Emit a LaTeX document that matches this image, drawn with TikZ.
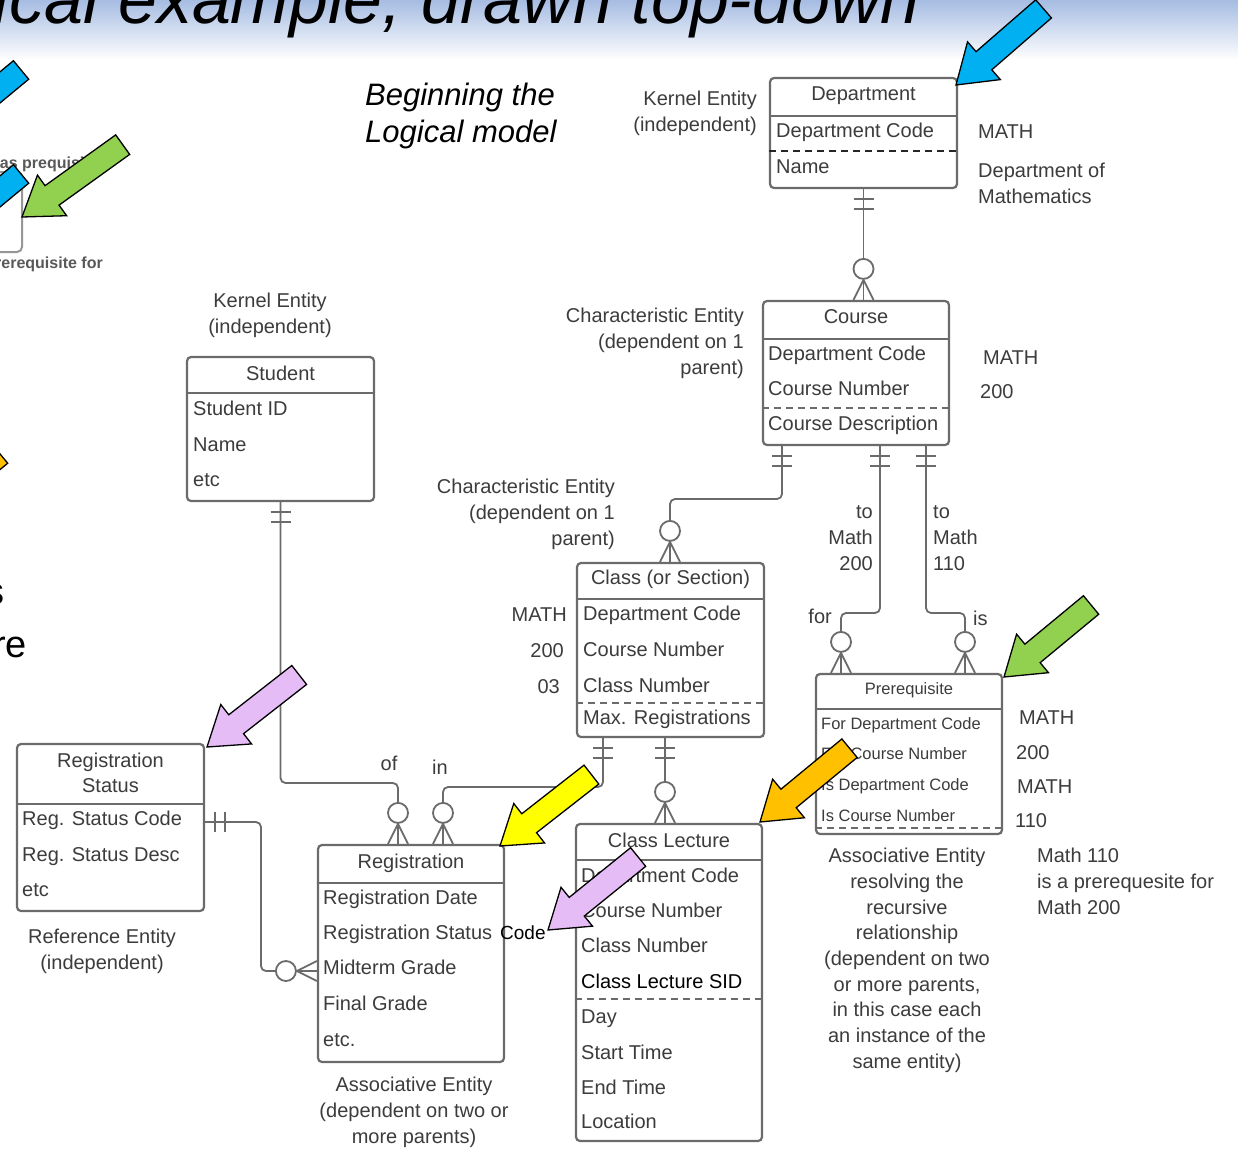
\documentclass[tikz,border=0pt]{standalone}
\usepackage{fontspec}
\setmainfont{Liberation Sans}
\usetikzlibrary{decorations.markings}

\definecolor{boxgray}{HTML}{6B6B6B}
\definecolor{txtgray}{HTML}{3C3C3C}
\definecolor{bandblue}{HTML}{A6BCE2}
\definecolor{arrowblue}{HTML}{00B0F0}
\definecolor{arrowgreen}{HTML}{92D050}
\definecolor{arrowlilac}{HTML}{E6BCF7}
\definecolor{arrowyellow}{HTML}{FFFF00}
\definecolor{arroworange}{HTML}{FFC000}

\tikzset{
  entity/.style={draw=boxgray, line width=2.2pt, rounded corners=4pt, inner sep=0pt},
  ehead/.style={font=\fontsize{20}{25}\selectfont, text=txtgray, inner sep=0pt, align=center},
  attr/.style={anchor=west, font=\fontsize{20}{25}\selectfont, text=txtgray, inner sep=0pt,
               text height=15pt, text depth=4pt},
  smallattr/.style={attr, font=\fontsize{16.5}{20}\selectfont, text height=12pt, text depth=3.5pt},
  note/.style={font=\fontsize{20}{26}\selectfont, text=txtgray, inner sep=0pt},
  sepline/.style={draw=boxgray, line width=2.2pt},
  keyline/.style={draw=boxgray, line width=1.5pt, dash pattern=on 7pt off 5pt},
  rel/.style={draw=boxgray, line width=1.8pt, rounded corners=5pt},
  onestart/.style={postaction={decorate, decoration={markings,
      mark=at position 10pt with {\draw[boxgray, line width=1.8pt] (0pt,-10pt) -- (0pt,10pt);},
      mark=at position 20pt with {\draw[boxgray, line width=1.8pt] (0pt,-10pt) -- (0pt,10pt);}}}},
  manyend/.style={postaction={decorate, decoration={markings,
      mark=at position 1 with {\draw[boxgray, line width=1.8pt] (-20pt,0pt) -- (0pt,10pt) (-20pt,0pt) -- (0pt,-10pt);
                               \draw[boxgray, line width=1.8pt, fill=white] (-31pt,0pt) circle (10pt);}}}},
  callout/.style={draw=black, line width=1.3pt, line join=miter},
  fragment/.style={font=\bfseries\fontsize{16}{19}\selectfont, text=black!65, inner sep=0pt},
}

% block arrow: colour, tip, angle, length
\newcommand{\calloutarrow}[4]{%
  \begin{scope}[shift={#2}, rotate=#3]
    \filldraw[callout, fill=#1] (0,0) -- (37,25) -- (37,12) -- (#4,12) -- (#4,-12) -- (37,-12) -- (37,-25) -- cycle;
  \end{scope}}

\begin{document}
\begin{tikzpicture}[x=1pt, y=-1pt]
  \useasboundingbox (0,0) rectangle (1238,1148);
  \clip (0,0) rectangle (1238,1148);
  \fill[white] (0,0) rectangle (1238,1148);
  \shade[top color=bandblue, bottom color=white] (0,0) rectangle (1238,60);

  \node[anchor=base east, inner sep=0pt, font=\itshape\fontsize{70}{80}\selectfont] (title) at (920,24) {Logical example, drawn top-down};
  \node[anchor=north west, align=left, inner sep=0pt, font=\itshape\fontsize{31}{37}\selectfont] (intro) at (365,83) {Beginning the\\Logical model};

  % cut-off parts of the slide on the left
  \node[fragment, anchor=base west] (frag-has) at (-10,168) {has prequisite};
  \node[fragment, anchor=base east] (frag-is) at (103,268) {is prerequisite for};
  \draw[boxgray!70, line width=2pt, rounded corners=5pt] (-60,172) rectangle (22,252);
  \node[anchor=base east, inner sep=0pt, font=\fontsize{38}{44}\selectfont] (frag-s) at (5,604) {s};
  \node[anchor=base east, inner sep=0pt, font=\fontsize{38}{44}\selectfont] (frag-re) at (27,657) {re};

  % Department
  \node[entity, minimum width=187, minimum height=110] (dept) at (863.5,133) {};
  \node[ehead] (dept-title) at (863.5,96) {Department};
  \draw[sepline] (dept.west |- 0,116) -- (dept.east |- 0,116);
  \node[attr] (dept-code) at (776,132) {Department Code};
  \draw[keyline, draw=black!85] (dept.west |- 0,151) -- (dept.east |- 0,151);
  \node[attr] (dept-name) at (776,168) {Name};

  % Course
  \node[entity, minimum width=186, minimum height=144] (course) at (856,373) {};
  \node[ehead] (course-title) at (856,317) {Course};
  \draw[sepline] (course.west |- 0,339) -- (course.east |- 0,339);
  \node[attr] (course-dept) at (768,355) {Department Code};
  \node[attr] (course-num) at (768,390) {Course Number};
  \draw[keyline] (course.west |- 0,408) -- (course.east |- 0,408);
  \node[attr] (course-desc) at (768,425) {Course Description};

  % Class (or Section)
  \node[entity, minimum width=187, minimum height=174] (class) at (670.5,650) {};
  \node[ehead] (class-title) at (670.5,579) {Class (or Section)};
  \draw[sepline] (class.west |- 0,599) -- (class.east |- 0,599);
  \node[attr] (class-dept) at (583,615) {Department Code};
  \node[attr] (class-course) at (583,651) {Course Number};
  \node[attr] (class-num) at (583,687) {Class Number};
  \draw[keyline] (class.west |- 0,703) -- (class.east |- 0,703);
  \node[attr] (class-max) at (583,719) {Max. Registrations};

  % Student
  \node[entity, minimum width=187, minimum height=144] (student) at (280.5,429) {};
  \node[ehead] (student-title) at (280.5,373) {Student};
  \draw[sepline] (student.west |- 0,393) -- (student.east |- 0,393);
  \node[attr] (student-id) at (193,410) {Student ID};
  \node[attr] (student-name) at (193,446) {Name};
  \node[attr] (student-etc) at (193,481) {etc};

  % Registration Status
  \node[entity, minimum width=187, minimum height=167] (regstat) at (110.5,827.5) {};
  \node[ehead] (regstat-title) at (110.5,772.5) {Registration\\Status};
  \draw[sepline] (regstat.west |- 0,804) -- (regstat.east |- 0,804);
  \node[attr] (regstat-code) at (22,820) {Reg. Status Code};
  \node[attr] (regstat-desc) at (22,856) {Reg. Status Desc};
  \node[attr] (regstat-etc) at (22,891) {etc};

  % Registration
  \node[entity, minimum width=186, minimum height=217] (reg) at (411,953.5) {};
  \node[ehead] (reg-title) at (411,863) {Registration};
  \draw[sepline] (reg.west |- 0,883) -- (reg.east |- 0,883);
  \node[attr] (reg-date) at (323,899) {Registration Date};
  \node[attr] (reg-status) at (323,934) {Registration Status};
  \node[anchor=west, inner sep=0pt, font=\fontsize{19}{22}\selectfont] (reg-code) at (500,933) {Code};
  \node[attr] (reg-mid) at (323,969) {Midterm Grade};
  \node[attr] (reg-final) at (323,1005) {Final Grade};
  \node[attr] (reg-etc) at (323,1041) {etc.};

  % Class Lecture
  \node[entity, minimum width=186, minimum height=317] (lecture) at (669,982.5) {};
  \node[ehead] (lecture-title) at (669,840) {Class Lecture};
  \draw[sepline] (lecture.west |- 0,860) -- (lecture.east |- 0,860);
  \node[attr] (lecture-dept) at (581,877) {Department Code};
  \node[attr] (lecture-course) at (581,912) {Course Number};
  \node[attr] (lecture-class) at (581,947) {Class Number};
  \node[attr, text=black] (lecture-sid) at (581,983) {Class Lecture SID};
  \draw[keyline] (lecture.west |- 0,999) -- (lecture.east |- 0,999);
  \node[attr] (lecture-day) at (581,1018) {Day};
  \node[attr] (lecture-start) at (581,1054) {Start Time};
  \node[attr] (lecture-end) at (581,1089) {End Time};
  \node[attr] (lecture-loc) at (581,1123) {Location};

  % Prerequisite
  \node[entity, minimum width=186, minimum height=160] (prereq) at (909,754) {};
  \node[ehead, font=\fontsize{16.5}{20}\selectfont] (prereq-title) at (909,690) {Prerequisite};
  \draw[sepline] (prereq.west |- 0,709) -- (prereq.east |- 0,709);
  \node[smallattr] (prereq-fdept) at (821,725) {For Department Code};
  \node[smallattr] (prereq-fnum) at (821,755) {For Course Number};
  \node[smallattr] (prereq-idept) at (821,786) {Is Department Code};
  \node[smallattr] (prereq-inum) at (821,817) {Is Course Number};
  \draw[keyline] (prereq.west |- 0,828) -- (prereq.east |- 0,828);

  % relationships
  \draw[rel, onestart, manyend] (dept.south) -- (dept.south |- course.north);
  \draw[rel, onestart, manyend] (course.south -| 782,0) |- (670,499) -- (class.north -| 670,0);
  \draw[rel, onestart, manyend] (course.south -| 880,0) |- (841,613) -- (prereq.north -| 841,0);
  \draw[rel, onestart, manyend] (course.south -| 926,0) |- (965,613) -- (prereq.north -| 965,0);
  \draw[rel, onestart, manyend] (student.south) |- (398,783) -- (reg.north -| 398,0);
  \draw[rel, onestart, manyend] (class.south -| 603,0) |- (443,787) -- (reg.north -| 443,0);
  \draw[rel, onestart, manyend] (class.south -| 665,0) -- (lecture.north -| 665,0);
  \draw[rel, onestart, manyend] (regstat.east |- 0,822) -| (261,971) -- (reg.west |- 0,971);

  % annotations
  \node[note, anchor=north east, align=right] (dept-kind) at (757,91) {Kernel Entity\\(independent)};
  \node[note, anchor=west] (dept-v1) at (978,132) {MATH};
  \node[note, anchor=north west, align=left] (dept-v2) at (978,163) {Department of\\Mathematics};
  \node[note, anchor=north east, align=right] (course-kind) at (744,308) {Characteristic Entity\\(dependent on 1\\parent)};
  \node[note, anchor=west] (course-v1) at (983,358) {MATH};
  \node[note, anchor=west] (course-v2) at (980,392) {200};
  \node[note, anchor=north, align=center] (student-kind) at (270,293) {Kernel Entity\\(independent)};
  \node[note, anchor=north east, align=right] (class-kind) at (615,479) {Characteristic Entity\\(dependent on 1\\parent)};
  \node[note, anchor=east] (class-v1) at (567,615) {MATH};
  \node[note, anchor=east] (class-v2) at (564,651) {200};
  \node[note, anchor=east] (class-v3) at (560,687) {03};
  \node[note, anchor=north east, align=right] (for-note) at (873,505) {to\\Math\\200};
  \node[note, anchor=north west, align=left] (is-note) at (933,505) {to\\Math\\110};
  \node[note, anchor=east] (for-lbl) at (832,616) {for};
  \node[note, anchor=west] (is-lbl) at (973,618) {is};
  \node[note] (of-lbl) at (389,763) {of};
  \node[note] (in-lbl) at (440,767) {in};
  \node[note, anchor=north, align=center] (regstat-kind) at (102,929) {Reference Entity\\(independent)};
  \node[note, anchor=north, align=center] (reg-kind) at (414,1077) {Associative Entity\\(dependent on two or\\more parents)};
  \node[note, anchor=west] (prereq-v1) at (1019,718) {MATH};
  \node[note, anchor=west] (prereq-v2) at (1016,753) {200};
  \node[note, anchor=west] (prereq-v3) at (1017,787) {MATH};
  \node[note, anchor=west] (prereq-v4) at (1015,821) {110};
  \node[note, anchor=north, align=center, font=\fontsize{20}{25.7}\selectfont] (prereq-kind) at (907,848) {Associative Entity\\resolving the\\recursive\\relationship\\(dependent on two\\or more parents,\\in this case each\\an instance of the\\same entity)};
  \node[note, anchor=north west, align=left, font=\fontsize{20}{25.7}\selectfont] (prereq-example) at (1037,848) {Math 110\\is a prerequesite for\\Math 200};

  % pointer arrows
  \calloutarrow{arrowblue}{(956,85)}{41}{116}
  \calloutarrow{arrowgreen}{(1004,677)}{39.6}{113}
  \calloutarrow{arrowlilac}{(207,747)}{38}{117}
  \calloutarrow{arrowyellow}{(500,846)}{38}{116}
  \calloutarrow{arroworange}{(760,822)}{39.5}{116}
  \calloutarrow{arrowlilac}{(548,930)}{39}{116}
  \calloutarrow{arrowgreen}{(22,217)}{35.7}{124}
  \calloutarrow{arrowblue}{(-66,142)}{39.6}{113}
  \calloutarrow{arrowblue}{(-66,246)}{39.6}{113}
  \calloutarrow{arroworange}{(-87,526)}{39.6}{113}
\end{tikzpicture}
\end{document}
